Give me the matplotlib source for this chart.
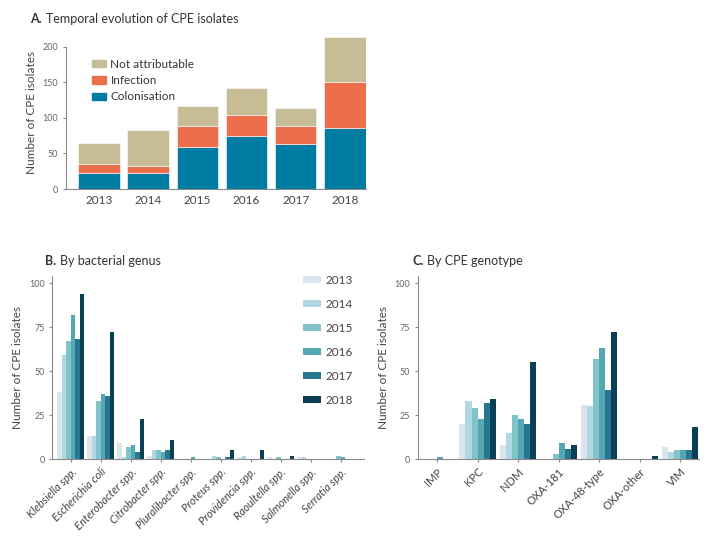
import numpy as np
import matplotlib.pyplot as plt
import matplotlib as mpl
from matplotlib.patches import Patch

mpl.rcParams.update({
    "font.family": ["Lato", "DejaVu Sans"],
    "font.size": 8,
    "axes.spines.right": False, "axes.spines.top": False,
    "axes.edgecolor": "#8a8a8a", "axes.linewidth": 0.8,
    "xtick.color": "#8a8a8a", "ytick.color": "#8a8a8a",
    "text.color": "#333333",
})

# ---- Panel A data: CPE isolates per year by attribution ----
years = ["2013", "2014", "2015", "2016", "2017", "2018"]
colonisation = [23, 22, 59, 74, 63, 86]
infection = [12, 11, 29, 30, 26, 64]
not_attributable = [30, 50, 29, 38, 25, 63]

# ---- Panel B data: by bacterial genus (one list per year 2013..2018) ----
genera = ["Klebsiella spp.", "Escherichia coli", "Enterobacter spp.",
          "Citrobacter spp.", "Pluralibacter spp.", "Proteus spp.",
          "Providencia spp.", "Raoultella spp.", "Salmonella spp.",
          "Serratia spp."]
genus_2013 = [38, 13, 9, 2, 0, 0, 1, 1, 1, 0]
genus_2014 = [59, 13, 1, 5, 0, 2, 2, 0, 1, 0]
genus_2015 = [67, 33, 7, 5, 0, 1, 0, 1, 0, 2]
genus_2016 = [82, 37, 8, 4, 1, 0, 0, 0, 0, 1]
genus_2017 = [68, 36, 4, 5, 0, 1, 0, 0, 0, 0]
genus_2018 = [94, 72, 23, 11, 0, 5, 5, 2, 0, 0]

# ---- Panel C data: by CPE genotype ----
genotypes = ["IMP", "KPC", "NDM", "OXA-181", "OXA-48-type", "OXA-other", "VIM"]
geno_2013 = [0, 20, 8, 0, 31, 0, 7]
geno_2014 = [0, 33, 15, 0, 30, 0, 4]
geno_2015 = [0, 29, 25, 3, 57, 0, 5]
geno_2016 = [1, 23, 23, 9, 63, 0, 5]
geno_2017 = [0, 32, 20, 6, 39, 0, 5]
geno_2018 = [0, 34, 55, 8, 72, 2, 18]

C_COL = "#007ba1"
C_INF = "#ec6e4a"
C_NA = "#c6bd97"
YEAR_COLORS = ["#dce4ee", "#b0d8e4", "#80c3c8", "#55a7b4", "#287790", "#0b3f55"]

fig = plt.figure(figsize=(7.25, 5.37), dpi=100)

# ---------------- Panel A ----------------
axA = fig.add_axes([0.091, 0.648, 0.414, 0.285])
x = np.arange(len(years))
w = 0.84
col = np.array(colonisation)
inf = np.array(infection)
na = np.array(not_attributable)
axA.bar(x, col, w, color=C_COL, edgecolor="white", linewidth=0.4)
axA.bar(x, inf, w, bottom=col, color=C_INF, edgecolor="white", linewidth=0.4)
axA.bar(x, na, w, bottom=col + inf, color=C_NA, edgecolor="white", linewidth=0.4)
axA.set_xlim(-0.67, 5.43)
axA.set_ylim(0, 215)
axA.spines["left"].set_bounds(0, 200)
axA.set_yticks([0, 50, 100, 150, 200])
axA.tick_params(axis="y", labelsize=6.5, length=2, labelcolor="#666666")
axA.set_xticks(x)
axA.set_xticklabels(years, fontsize=8.5, color="#444444")
axA.tick_params(axis="x", length=0, pad=4)
axA.set_ylabel("Number of CPE isolates", fontsize=8.5, color="#444444")
handles = [Patch(color=C_NA, label="Not attributable"),
           Patch(color=C_INF, label="Infection"),
           Patch(color=C_COL, label="Colonisation")]
axA.legend(handles=handles, loc="upper left", bbox_to_anchor=(0.05, 0.92),
           frameon=False, fontsize=8.5, handlelength=1.2, handleheight=0.6,
           handletextpad=0.4, labelspacing=0.45, labelcolor="#333333")

fig.text(0.041, 0.965, "A.", fontsize=9, fontweight="bold", va="center")
fig.text(0.064, 0.965, "Temporal evolution of CPE isolates", fontsize=9, va="center")


def grouped(ax, cats, series, italic):
    n = len(series)
    xs = np.arange(len(cats))
    bw = 0.9 / n
    for i, (vals, c) in enumerate(zip(series, YEAR_COLORS)):
        ax.bar(xs - 0.45 + bw * (i + 0.5), vals, bw, color=c, label=years[i],
               linewidth=0)
    ax.set_ylim(0, 104)
    ax.set_yticks([0, 25, 50, 75, 100])
    ax.tick_params(axis="y", labelsize=6.5, length=2, labelcolor="#666666")
    ax.set_xticks(xs)
    ax.set_xticklabels(cats, rotation=45, ha="right", rotation_mode="anchor",
                       fontsize=8, color="#444444",
                       style="italic" if italic else "normal")
    ax.tick_params(axis="x", length=2, pad=3)
    ax.set_ylabel("Number of CPE isolates", fontsize=8.5, color="#444444")


# ---------------- Panel B ----------------
axB = fig.add_axes([0.072, 0.145, 0.43, 0.341])
grouped(axB, genera, [genus_2013, genus_2014, genus_2015, genus_2016,
                      genus_2017, genus_2018], italic=True)
axB.set_xlim(-0.62, 9.78)
axB.legend(loc="upper left", bbox_to_anchor=(0.77, 1.065), frameon=False,
           fontsize=8.5, handlelength=1.5, handleheight=0.5,
           handletextpad=0.4, labelspacing=1.1, labelcolor="#444444")
fig.text(0.062, 0.514, "B.", fontsize=9, fontweight="bold", va="center")
fig.text(0.083, 0.514, "By bacterial genus", fontsize=9, va="center")

# ---------------- Panel C ----------------
axC = fig.add_axes([0.576, 0.145, 0.388, 0.341])
grouped(axC, genotypes, [geno_2013, geno_2014, geno_2015, geno_2016,
                         geno_2017, geno_2018], italic=False)
axC.set_xlim(-0.48, 6.46)
fig.text(0.569, 0.514, "C.", fontsize=9, fontweight="bold", va="center")
fig.text(0.589, 0.514, "By CPE genotype", fontsize=9, va="center")

fig.savefig("out.png", dpi=100)
